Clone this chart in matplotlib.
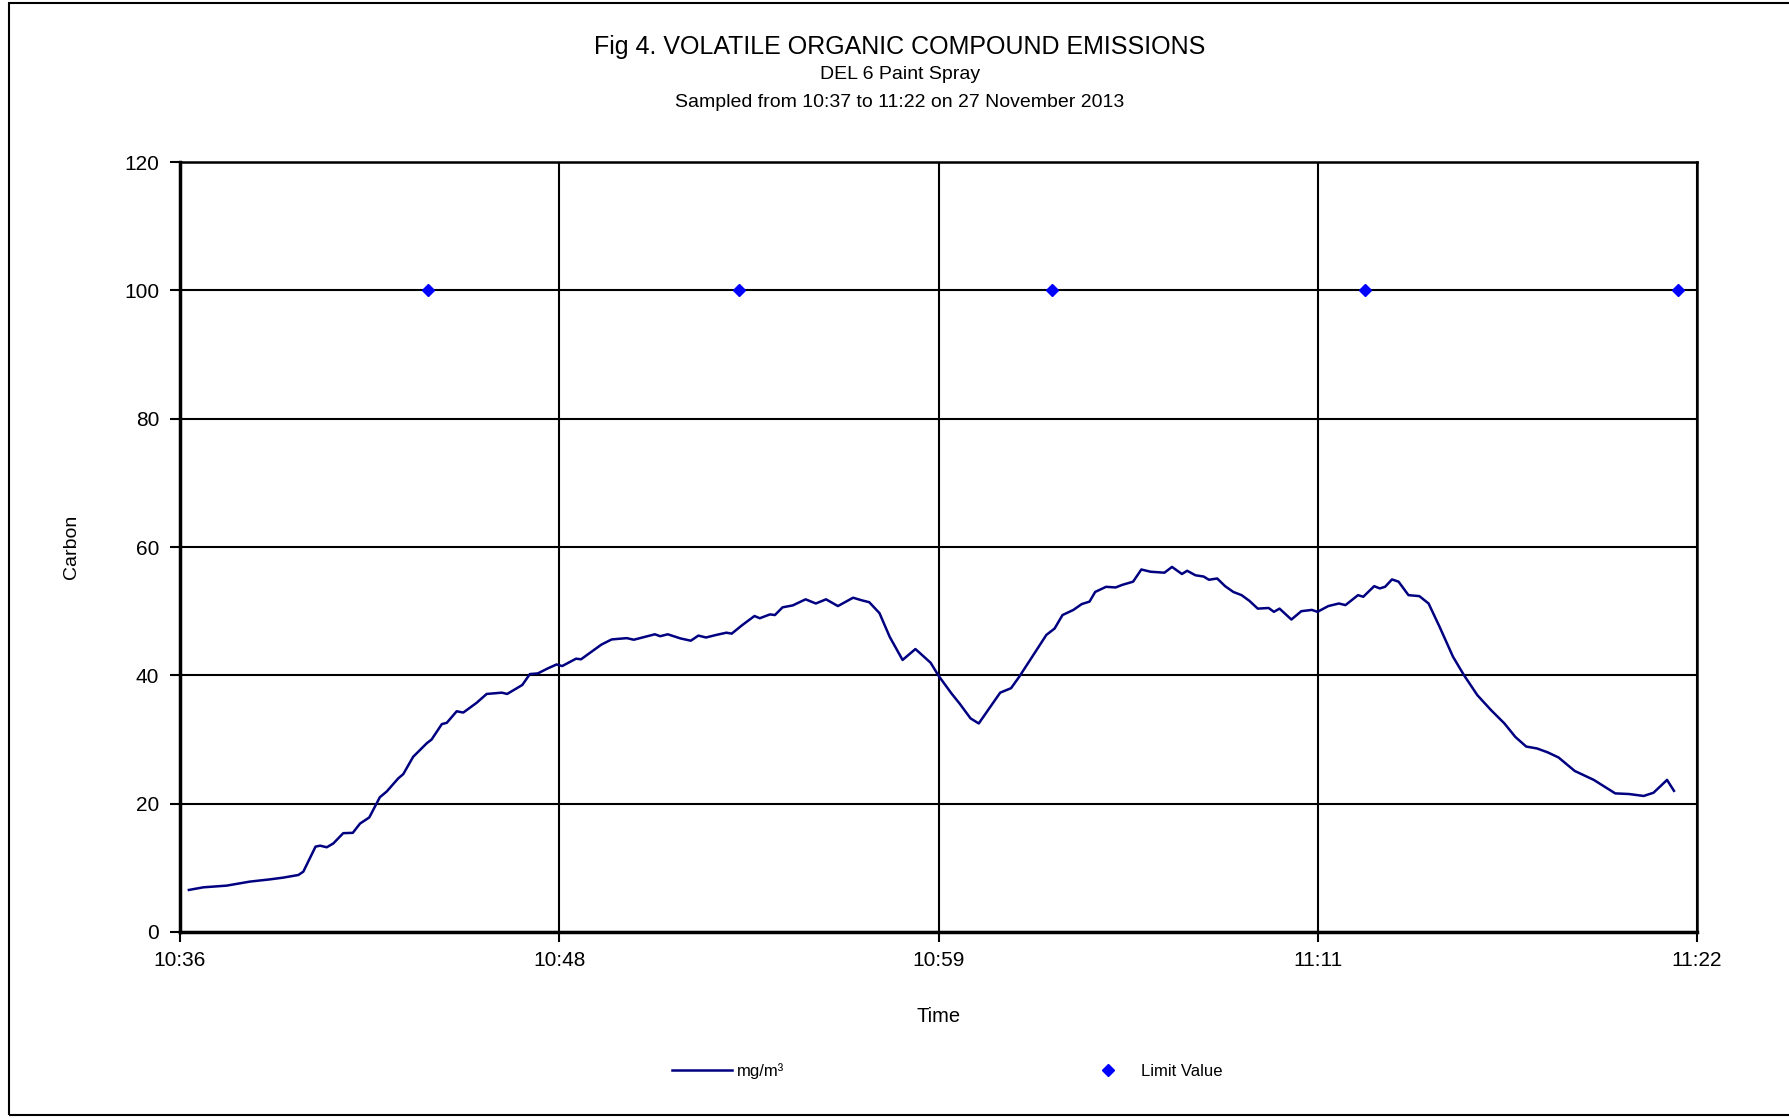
import matplotlib
matplotlib.use('Agg')
import matplotlib.pyplot as plt
from matplotlib.patches import Rectangle

plt.rcParams['font.family'] = ['Liberation Sans Narrow', 'Liberation Sans', 'DejaVu Sans']

# minutes after 10:36 and measured carbon (mg/m3)
minutos = [0.27, 0.71, 1.41, 2.12, 2.73, 3.13, 3.59, 3.74, 4.11, 4.25, 4.45, 4.65, 4.95, 5.24, 5.46,
           5.74, 6.06, 6.27, 6.62, 6.77, 7.07, 7.48, 7.63, 7.94, 8.09, 8.39, 8.59, 8.99, 9.3, 9.76,
           9.92, 10.38, 10.61, 10.85, 11.16, 11.42, 11.59, 12.01, 12.16, 12.78, 13.09, 13.55, 13.76,
           14.4, 14.56, 14.79, 15.18, 15.49, 15.72, 15.95, 16.26, 16.57, 16.73, 17.04, 17.42, 17.58,
           17.89, 18.04, 18.27, 18.58, 18.97, 19.28, 19.59, 19.95, 20.41, 20.67, 20.9, 21.21, 21.52,
           21.91, 22.3, 22.61, 22.76, 23.0, 23.39, 23.64, 23.97, 24.22, 24.54, 24.87, 25.2, 25.45,
           25.94, 26.27, 26.52, 26.76, 27.09, 27.34, 27.58, 27.75, 28.08, 28.37, 28.57, 28.9, 29.15,
           29.43, 29.85, 30.08, 30.38, 30.54, 30.79, 31.04, 31.2, 31.45, 31.69, 31.94, 32.19, 32.43,
           32.68, 33.01, 33.17, 33.34, 33.7, 34.0, 34.32, 34.49, 34.82, 35.14, 35.34, 35.72, 35.88,
           36.21, 36.38, 36.54, 36.75, 36.95, 37.25, 37.58, 37.86, 38.19, 38.6, 38.93, 39.34, 39.75,
           40.16, 40.49, 40.82, 41.15, 41.47, 41.8, 42.29, 42.87, 43.52, 43.94, 44.38, 44.68, 45.09,
           45.3]
carbono = [6.55, 6.96, 7.22, 7.85, 8.2, 8.47, 8.88, 9.4, 13.3, 13.45, 13.2, 13.8, 15.4, 15.45, 16.9,
           17.85, 21.0, 21.9, 23.95, 24.6, 27.3, 29.4, 30.0, 32.4, 32.6, 34.4, 34.2, 35.7, 37.1, 37.3,
           37.1, 38.5, 40.2, 40.3, 41.1, 41.7, 41.45, 42.6, 42.5, 44.8, 45.6, 45.8, 45.55,
           46.4, 46.1, 46.4, 45.75, 45.4, 46.2, 45.9, 46.3, 46.65, 46.5, 47.8, 49.25, 48.9,
           49.5, 49.4, 50.6, 50.9, 51.85, 51.2, 51.85, 50.8, 52.1, 51.7, 51.4, 49.7, 46.0,
           42.4, 44.1, 42.65, 41.97, 39.95, 37.2, 35.6, 33.3, 32.5, 34.85, 37.3, 38.0, 39.8,
           43.7, 46.3, 47.3, 49.4, 50.2, 51.1, 51.5, 53.0, 53.8, 53.7, 54.1, 54.6, 56.5,
           56.15, 56.0, 56.9, 55.8, 56.3, 55.6, 55.4, 54.9, 55.1, 53.9, 53.0, 52.5, 51.6,
           50.4, 50.5, 49.9, 50.4, 48.7, 50.0, 50.2, 49.9, 50.8, 51.2, 50.95, 52.5, 52.25,
           53.9, 53.55, 53.8, 54.95, 54.6, 52.5, 52.35, 51.2, 47.6, 42.9, 40.05, 36.9, 34.6,
           32.5, 30.4, 28.9, 28.6, 28.0, 27.2, 25.1, 23.7, 21.6, 21.5, 21.2, 21.7, 23.7,
           22.0]

# limit value points
minutos_limite = [7.51, 16.96, 26.45, 35.93, 45.41]
valor_limite = [100, 100, 100, 100, 100]

ticks_x = [0, 11.5, 23, 34.5, 46]
etiquetas_x = ['10:36', '10:48', '10:59', '11:11', '11:22']
ticks_y = [0, 20, 40, 60, 80, 100, 120]

fig = plt.figure(figsize=(17.89, 11.18), dpi=100)
ax = fig.add_axes([0.1006, 0.1664, 0.848, 0.6886])

linea, = ax.plot(minutos, carbono, color='#000080', linewidth=1.8, label='mg/m³')
puntos, = ax.plot(minutos_limite, valor_limite, linestyle='none', marker='D', markersize=6,
                  color='#0000FF', label='Limit Value')

ax.set_xlim(0, 46)
ax.set_ylim(0, 120)
ax.set_xticks(ticks_x)
ax.set_xticklabels(etiquetas_x)
ax.set_yticks(ticks_y)
ax.grid(True, color='black', linewidth=1.5)
ax.set_axisbelow(True)
ax.tick_params(axis='both', direction='out', length=7, width=1.5, labelsize=15, colors='black')
ax.tick_params(axis='y', pad=8)
ax.tick_params(axis='x', pad=7)
for lado in ['left', 'bottom']:
    ax.spines[lado].set_linewidth(2.5)
for lado in ['top', 'right']:
    ax.spines[lado].set_linewidth(1.8)

ax.set_xlabel('Time', fontsize=14.5, labelpad=26)
ax.set_ylabel('Carbon', fontsize=14, labelpad=32)

fig.text(0.503, 0.958, 'Fig 4. VOLATILE ORGANIC COMPOUND EMISSIONS', ha='center', va='center', fontsize=18)
fig.text(0.503, 0.933, 'DEL 6 Paint Spray', ha='center', va='center', fontsize=14)
fig.text(0.503, 0.908, 'Sampled from 10:37 to 11:22 on 27 November 2013', ha='center', va='center', fontsize=14)

fig.legend(handles=[linea], loc='center left', bbox_to_anchor=(0.367, 0.042), frameon=False,
           fontsize=12, handlelength=3.6, handletextpad=0.3)
fig.legend(handles=[puntos], loc='center left', bbox_to_anchor=(0.604, 0.042), frameon=False,
           fontsize=12, handlelength=1.5, handletextpad=1.2)

borde = Rectangle((0.005, 0.003), 1.2, 0.994, transform=fig.transFigure, fill=False,
                  edgecolor='black', linewidth=1.5, clip_on=False)
fig.patches.append(borde)

plt.savefig('out.png', dpi=100)
